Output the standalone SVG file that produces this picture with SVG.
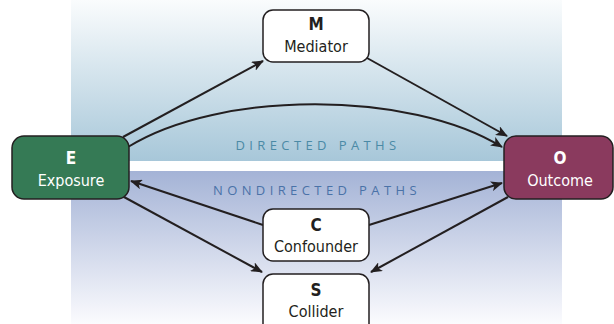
<svg xmlns="http://www.w3.org/2000/svg" width="614" height="324" viewBox="0 0 614 324">
<defs>
<linearGradient id="gTop" x1="0" y1="0" x2="0" y2="1">
<stop offset="0" stop-color="#fafcfd"/>
<stop offset="1" stop-color="#a7c7d9"/>
</linearGradient>
<linearGradient id="gBot" x1="0" y1="0" x2="0" y2="1">
<stop offset="0" stop-color="#a4b3d6"/>
<stop offset="1" stop-color="#fbfbfe"/>
</linearGradient>
<marker id="arr" viewBox="0 0 12 10" markerWidth="12" markerHeight="10" refX="11" refY="5" orient="auto" markerUnits="userSpaceOnUse">
<path d="M0,0 L12,5 L0,10 L3,5 z" fill="#231f20"/>
</marker>
<style>
.box{fill:#ffffff;stroke:#231f20;stroke-width:1.5}
.e{fill:#357a55;stroke:#231f20;stroke-width:1.5}
.o{fill:#8a3a5e;stroke:#231f20;stroke-width:1.5}
.t1{font-family:"DejaVu Sans Condensed",Roboto,sans-serif;font-size:17px;font-weight:bold;text-anchor:middle}
.t2{font-family:"DejaVu Sans Condensed",Roboto,sans-serif;font-size:16px;text-anchor:middle}
.dk{fill:#231f20}
.wh{fill:#ffffff}
.lbl{font-family:"Open Sans",sans-serif;font-size:13px;letter-spacing:4.4px;text-anchor:middle}
.c{fill:none;stroke:#231f20;stroke-width:2;marker-end:url(#arr)}
</style>
</defs>
<rect x="71" y="0" width="491" height="161" fill="url(#gTop)"/>
<rect x="71" y="171" width="491" height="153" fill="url(#gBot)"/>
<text class="lbl" x="318" y="150" fill="#4b8aa6">DIRECTED PATHS</text>
<text class="lbl" x="317" y="195" fill="#4a72a8">NONDIRECTED PATHS</text>
<g id="connectors">
<path class="c" d="M123,137 L263,61"/>
<path class="c" d="M367,58 L507,136"/>
<path class="c" d="M128,147 C220,90 410,90 502,147"/>
<path class="c" d="M263,225 L131,181"/>
<path class="c" d="M369,225 L502,183"/>
<path class="c" d="M124,197 L262,272"/>
<path class="c" d="M508,197 L371,272"/>
</g>
<g id="node-M">
<rect class="box" x="263" y="10" width="106" height="52" rx="10"/>
<text class="t1 dk" x="316" y="30">M</text>
<text class="t2 dk" x="316" y="52">Mediator</text>
</g>
<g id="node-E">
<rect class="e" x="12" y="136" width="117" height="63" rx="12"/>
<text class="t1 wh" x="71" y="164">E</text>
<text class="t2 wh" x="71" y="186">Exposure</text>
</g>
<g id="node-O">
<rect class="o" x="504" y="136" width="109" height="63" rx="12"/>
<text class="t1 wh" x="560" y="164">O</text>
<text class="t2 wh" x="560" y="186">Outcome</text>
</g>
<g id="node-C">
<rect class="box" x="263" y="209" width="106" height="52" rx="10"/>
<text class="t1 dk" x="316" y="231">C</text>
<text class="t2 dk" x="316" y="252">Confounder</text>
</g>
<g id="node-S">
<rect class="box" x="263" y="274" width="106" height="60" rx="10"/>
<text class="t1 dk" x="316" y="296">S</text>
<text class="t2 dk" x="316" y="317">Collider</text>
</g>
</svg>
